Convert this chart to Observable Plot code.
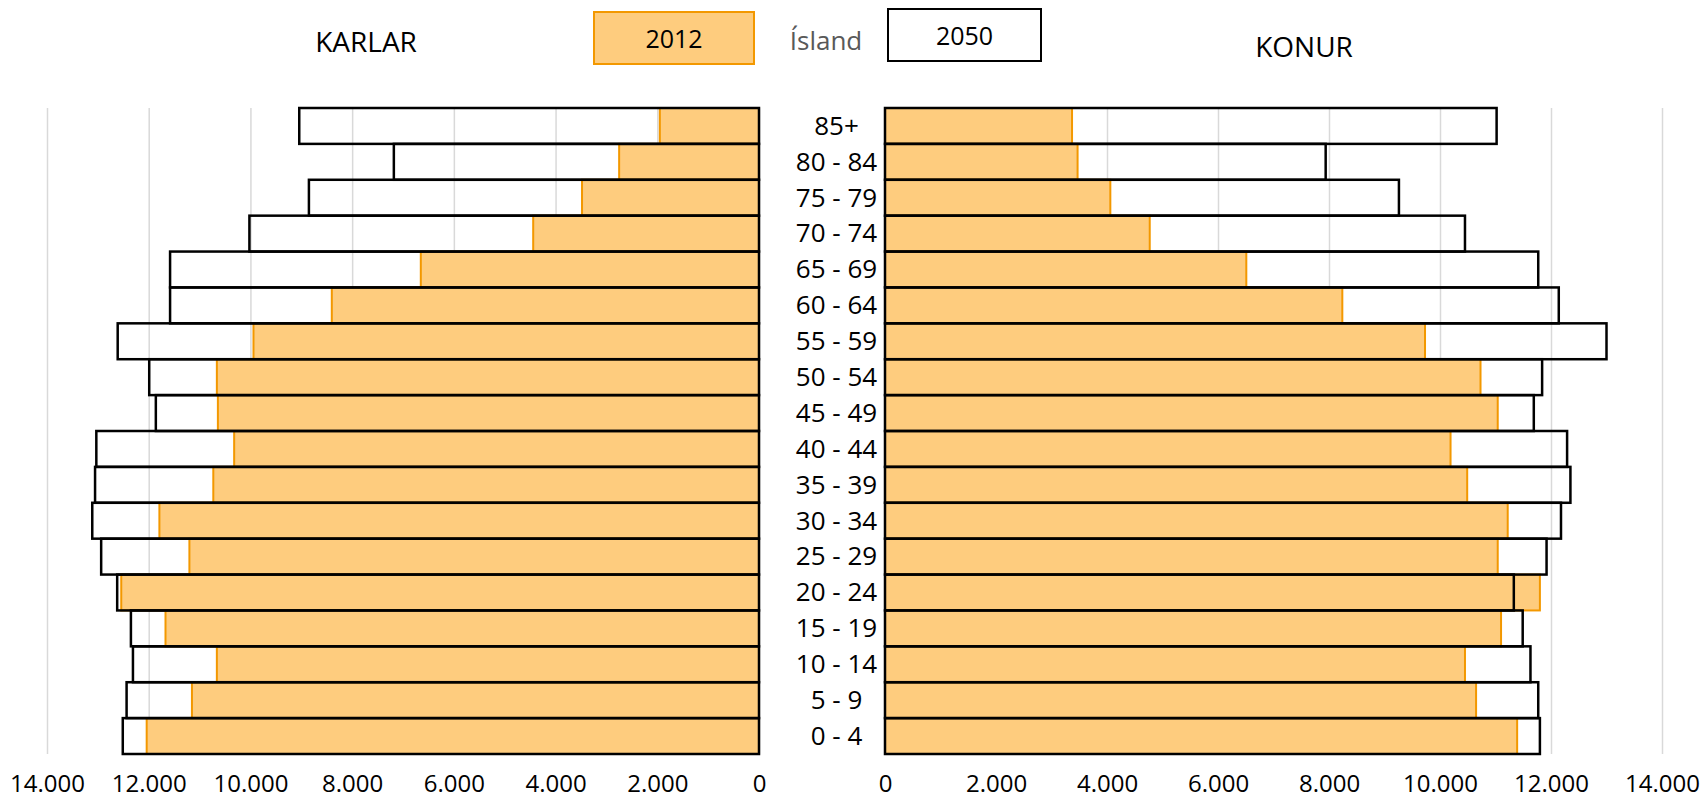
<!DOCTYPE html>
<html>
<head>
<meta charset="utf-8">
<script src="https://cdn.jsdelivr.net/npm/d3@7"></script>
<script src="https://cdn.jsdelivr.net/npm/@observablehq/plot@0.6"></script>
<style>
  html, body { margin: 0; padding: 0; background: #fff; }
  body { width: 1707px; height: 798px; position: relative; overflow: hidden; font-family: "Open Sans", sans-serif; }
  .abs { position: absolute; }
  .lbl { position: absolute; transform: translate(-50%, -50%); white-space: nowrap; line-height: 1; }
  .box { position: absolute; box-sizing: border-box; display: flex; align-items: center; justify-content: center; font-size: 25px; color: #000; }
</style>
</head>
<body>
<div class="lbl" style="left:366px; top:41px; font-size:28px; color:#000;">KARLAR</div>
<div class="box" style="left:593px; top:11px; width:162px; height:54px; background:#FECC7E; border:2px solid #F39800;">2012</div>
<div class="lbl" style="left:826px; top:40px; font-size:26px; color:#595959;">Ísland</div>
<div class="box" style="left:887px; top:8px; width:155px; height:54px; background:#fff; border:2px solid #000;">2050</div>
<div class="lbl" style="left:1304px; top:46px; font-size:28px; color:#000;">KONUR</div>
<div id="left" class="abs" style="left:0px; top:84px;"></div>
<div id="right" class="abs" style="left:770px; top:84px;"></div>
<script>
const categories = ["85+", "80 - 84", "75 - 79", "70 - 74", "65 - 69", "60 - 64", "55 - 59", "50 - 54", "45 - 49",
  "40 - 44", "35 - 39", "30 - 34", "25 - 29", "20 - 24", "15 - 19", "10 - 14", "5 - 9", "0 - 4"];
const karlar2012 = [1950, 2750, 3480, 4440, 6650, 8400, 9940, 10660, 10640, 10320, 10730, 11790, 11200, 12540, 11670, 10660, 11150, 12040];
const karlar2050 = [9040, 7180, 8850, 10020, 11580, 11580, 12610, 11990, 11860, 13030, 13055, 13110, 12935, 12620, 12350, 12310, 12435, 12510];
const konur2012 = [3370, 3470, 4060, 4770, 6510, 8240, 9730, 10730, 11040, 10190, 10490, 11220, 11040, 11800, 11100, 10450, 10650, 11390];
const konur2050 = [11020, 7940, 9260, 10450, 11770, 12140, 13000, 11840, 11690, 12290, 12350, 12180, 11920, 11330, 11490, 11630, 11770, 11800];
const tickValues = [0, 2000, 4000, 6000, 8000, 10000, 12000, 14000];

const fmt = d => d === 0 ? "0" : d3.format(",")(d).replace(/,/g, ".");
const rows = categories.map((c, i) => ({cat: c, k12: karlar2012[i], k50: karlar2050[i], w12: konur2012[i], w50: konur2050[i]}));

const orangeFill = "#FECC7E", orangeStroke = "#F39800";
const common = {
  height: 714, marginTop: 24, marginBottom: 44,
  style: {fontFamily: "'Open Sans', sans-serif", fontSize: "24px", color: "#000", background: "transparent", overflow: "visible"},
  y: {domain: categories, padding: 0, round: false, axis: null}
};

const left = Plot.plot({
  ...common,
  width: 790, marginLeft: 47, marginRight: 31,
  x: {domain: [0, 14000], reverse: true, ticks: tickValues, tickFormat: fmt, tickSize: 0, tickPadding: 20, label: null},
  marks: [
    Plot.gridX(tickValues, {stroke: "#D9D9D9", strokeOpacity: 1, strokeWidth: 1.5}),
    Plot.barX(rows, {y: "cat", x1: () => 0, x2: "k12", fill: orangeFill, stroke: orangeStroke, strokeWidth: 2}),
    Plot.barX(rows, {y: "cat", x1: () => 0, x2: "k50", fill: "none", stroke: "#000", strokeWidth: 2.5})
  ]
});
document.getElementById("left").appendChild(left);

const right = Plot.plot({
  ...common,
  width: 937, marginLeft: 115, marginRight: 45,
  x: {domain: [0, 14000], ticks: tickValues, tickFormat: fmt, tickSize: 0, tickPadding: 20, label: null},
  marks: [
    Plot.gridX(tickValues, {stroke: "#D9D9D9", strokeOpacity: 1, strokeWidth: 1.5}),
    Plot.barX(rows, {y: "cat", x1: () => 0, x2: "w12", fill: orangeFill, stroke: orangeStroke, strokeWidth: 2}),
    Plot.barX(rows, {y: "cat", x1: () => 0, x2: "w50", fill: "none", stroke: "#000", strokeWidth: 2.5}),
    Plot.text(categories, {y: d => d, frameAnchor: "left", dx: -49, textAnchor: "middle", fontSize: 26, fill: "#000"})
  ]
});
document.getElementById("right").appendChild(right);
</script>
</body>
</html>
